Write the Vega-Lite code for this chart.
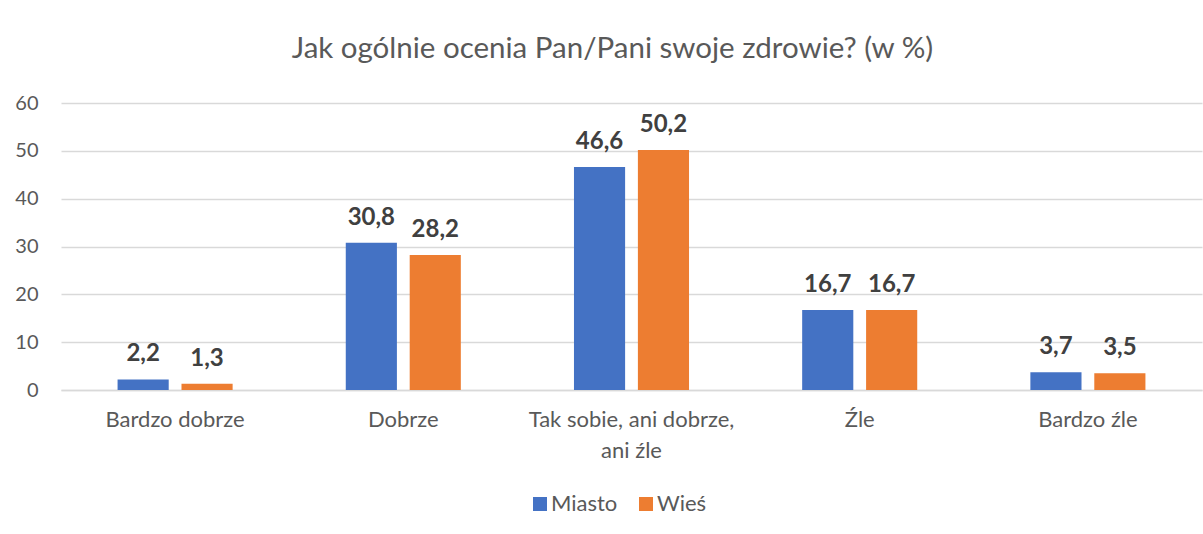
{
  "$schema": "https://vega.github.io/schema/vega-lite/v6.json",
  "autosize": "none",
  "width": 1141,
  "height": 287,
  "padding": {"left": 61, "top": 103, "right": 1, "bottom": 144},
  "background": "white",
  "title": {
    "text": "Jak ogólnie ocenia Pan/Pani swoje zdrowie? (w %)",
    "font": "Lato",
    "fontSize": 29.5,
    "fontWeight": "normal",
    "color": "#595959",
    "anchor": "middle",
    "dx": -19,
    "offset": 29
  },
  "data": {
    "values": [
      {"kategoria": "Bardzo dobrze", "grupa": "Miasto", "wartosc": 2.2},
      {"kategoria": "Bardzo dobrze", "grupa": "Wieś", "wartosc": 1.3},
      {"kategoria": "Dobrze", "grupa": "Miasto", "wartosc": 30.8},
      {"kategoria": "Dobrze", "grupa": "Wieś", "wartosc": 28.2},
      {"kategoria": "Tak sobie, ani dobrze, ani źle", "grupa": "Miasto", "wartosc": 46.6},
      {"kategoria": "Tak sobie, ani dobrze, ani źle", "grupa": "Wieś", "wartosc": 50.2},
      {"kategoria": "Źle", "grupa": "Miasto", "wartosc": 16.7},
      {"kategoria": "Źle", "grupa": "Wieś", "wartosc": 16.7},
      {"kategoria": "Bardzo źle", "grupa": "Miasto", "wartosc": 3.7},
      {"kategoria": "Bardzo źle", "grupa": "Wieś", "wartosc": 3.5}
    ]
  },
  "encoding": {
    "x": {
      "field": "kategoria",
      "type": "nominal",
      "sort": null,
      "scale": {"paddingInner": 0, "paddingOuter": 0},
      "axis": {
        "title": null,
        "labelAngle": 0,
        "labelFont": "Lato",
        "labelFontSize": 22,
        "labelColor": "#595959",
        "labelPadding": 19,
        "labelLineHeight": 31,
        "labelBaseline": "top",
        "labelLimit": 0,
        "ticks": false,
        "domain": true,
        "domainColor": "#D9D9D9",
        "domainWidth": 1.3,
        "labelExpr": "datum.value == 'Tak sobie, ani dobrze, ani źle' ? ['Tak sobie, ani dobrze,', 'ani źle'] : datum.value"
      }
    },
    "xOffset": {
      "field": "grupa",
      "type": "nominal",
      "scale": {"paddingInner": 0.2, "paddingOuter": 0.885}
    },
    "y": {
      "field": "wartosc",
      "type": "quantitative",
      "scale": {"domain": [0, 60], "nice": false},
      "axis": {
        "title": null,
        "values": [0, 10, 20, 30, 40, 50, 60],
        "labelFont": "Lato",
        "labelFontSize": 20,
        "labelColor": "#595959",
        "labelPadding": 23,
        "ticks": false,
        "domain": false,
        "grid": true,
        "gridColor": "#D9D9D9",
        "gridWidth": 1.3
      }
    }
  },
  "layer": [
    {
      "mark": {"type": "bar"},
      "encoding": {
        "color": {
          "field": "grupa",
          "type": "nominal",
          "scale": {"domain": ["Miasto", "Wieś"], "range": ["#4472C4", "#ED7D31"]},
          "legend": {
            "title": null,
            "orient": "none",
            "direction": "horizontal",
            "legendX": 468,
            "legendY": 390,
            "symbolType": "square",
            "symbolSize": 196,
            "symbolStrokeWidth": 0,
            "symbolOpacity": 1,
            "labelFont": "Lato",
            "labelFontSize": 22,
            "labelColor": "#595959",
            "labelOffset": 0,
            "columnPadding": 17
          }
        }
      }
    },
    {
      "mark": {
        "type": "text",
        "baseline": "alphabetic",
        "dy": -18,
        "font": "Lato",
        "fontSize": 24,
        "fontWeight": "bold",
        "color": "#404040"
      },
      "encoding": {
        "text": {"field": "wartosc", "type": "quantitative", "format": ".1f", "formatType": "number"}
      }
    }
  ],
  "config": {
    "view": {"stroke": null},
    "locale": {"number": {"decimal": ",", "thousands": " ", "grouping": [3], "currency": ["", " zł"]}}
  }
}
